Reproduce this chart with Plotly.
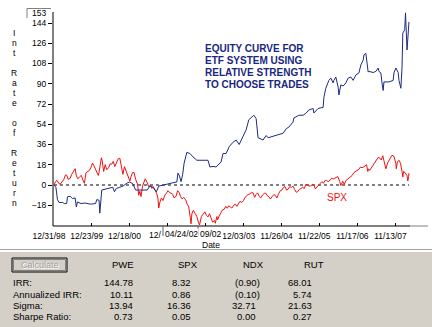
import plotly.graph_objects as go

# ---------------- data ----------------
pwe_x = [1999.00, 1999.05, 1999.09, 1999.13, 1999.22, 1999.27, 1999.33, 1999.35, 1999.42, 1999.48,
         1999.55, 1999.58, 1999.61, 1999.70, 1999.80, 1999.95, 2000.08, 2000.11, 2000.17, 2000.19,
         2000.24, 2000.38, 2000.53, 2000.57, 2000.62, 2000.71, 2000.79, 2000.90, 2000.97, 2001.05,
         2001.12, 2001.42, 2001.49, 2001.57, 2001.66, 2001.72, 2001.83, 2002.01, 2002.09, 2002.19,
         2002.22, 2002.26, 2002.30, 2002.34, 2002.38, 2002.45, 2002.53, 2002.61, 2002.71, 2003.00,
         2003.05, 2003.13, 2003.21, 2003.34, 2003.39, 2003.47, 2003.55, 2003.65, 2003.73, 2003.81,
         2003.91, 2003.99, 2004.06, 2004.14, 2004.19, 2004.25, 2004.30, 2004.43, 2004.51, 2004.56,
         2004.77, 2004.95, 2005.03, 2005.10, 2005.21, 2005.23, 2005.36, 2005.47, 2005.55, 2005.62,
         2005.73, 2005.75, 2005.86, 2005.99, 2006.01, 2006.06, 2006.14, 2006.19, 2006.25, 2006.27,
         2006.32, 2006.38, 2006.40, 2006.45, 2006.51, 2006.58, 2006.64, 2006.71, 2006.77, 2006.84,
         2006.92, 2006.97, 2007.03, 2007.05, 2007.10, 2007.13, 2007.16, 2007.18, 2007.29, 2007.36,
         2007.42, 2007.44, 2007.49, 2007.52, 2007.55, 2007.57, 2007.70, 2007.81, 2007.83, 2007.88,
         2007.94, 2007.96, 2008.01, 2008.04, 2008.06, 2008.11, 2008.13, 2008.17, 2008.19, 2008.22]
pwe_y = [0, -2, -13, -15.5, -15.5, -16.5, -16.5, -10.5, -10, -12,
         -11.5, -19.5, -15, -16.5, -16, -17, -16.5, -13, -13.5, -25,
         -4.5, -3.5, -2, -6, -3, -2, -1, 1.8, 2.7, 1,
         -4.5, -4.5, -1, -2, -6, -1, 0, 1.8, 2, 2.7,
         10.6, 8, 3, 9, 19.5, 29, 28, 25, 22, 22,
         16, 16.5, 16, 20.5, 28, 28, 34, 38, 40, 36,
         43, 49, 58, 61, 62, 59, 42, 40, 44, 42,
         44, 46, 50, 51.5, 56, 59.5, 62, 62, 64, 66.7,
         68, 64, 68, 69, 78, 86, 93, 95, 90.7, 93,
         96, 87, 80, 89, 88, 90.7, 95, 96, 93, 97.8,
         99.6, 106.7, 111, 115.6, 117, 107, 100.4, 101, 100, 101,
         104, 101, 99.6, 90.7, 84, 91.6, 91.6, 93, 99.6, 104,
         100, 93, 86, 105, 135, 138, 153, 120, 135, 145]

spx_x = [1999.00, 1999.04, 1999.08, 1999.12, 1999.16, 1999.21, 1999.25, 1999.30, 1999.33, 1999.37,
         1999.42, 1999.46, 1999.50, 1999.55, 1999.58, 1999.62, 1999.67, 1999.71, 1999.75, 1999.79,
         1999.83, 1999.88, 1999.92, 1999.96, 2000.00, 2000.04, 2000.08, 2000.12, 2000.15, 2000.17,
         2000.21, 2000.23, 2000.25, 2000.29, 2000.33, 2000.37, 2000.42, 2000.46, 2000.50, 2000.54,
         2000.58, 2000.62, 2000.67, 2000.71, 2000.75, 2000.79, 2000.83, 2000.88, 2000.92, 2000.97,
         2001.00, 2001.04, 2001.08, 2001.12, 2001.17, 2001.20, 2001.23, 2001.26, 2001.30, 2001.33,
         2001.37, 2001.42, 2001.46, 2001.50, 2001.54, 2001.58, 2001.62, 2001.67, 2001.70, 2001.72,
         2001.75, 2001.79, 2001.83, 2001.88, 2001.92, 2001.96, 2002.00, 2002.04, 2002.08, 2002.12,
         2002.17, 2002.21, 2002.25, 2002.29, 2002.33, 2002.37, 2002.42, 2002.46, 2002.50, 2002.54,
         2002.56, 2002.58, 2002.62, 2002.67, 2002.71, 2002.75, 2002.78, 2002.83, 2002.88, 2002.92,
         2002.96, 2003.00, 2003.04, 2003.08, 2003.12, 2003.17, 2003.19, 2003.23, 2003.25, 2003.29,
         2003.33, 2003.38, 2003.42, 2003.46, 2003.50, 2003.54, 2003.58, 2003.62, 2003.67, 2003.71,
         2003.75, 2003.79, 2003.83, 2003.88, 2003.92, 2003.96, 2004.00, 2004.04, 2004.08, 2004.12,
         2004.17, 2004.21, 2004.25, 2004.29, 2004.33, 2004.37, 2004.42, 2004.46, 2004.50, 2004.54,
         2004.58, 2004.62, 2004.67, 2004.71, 2004.75, 2004.79, 2004.83, 2004.88, 2004.92, 2004.96,
         2005.00, 2005.04, 2005.08, 2005.12, 2005.17, 2005.21, 2005.25, 2005.29, 2005.33, 2005.37,
         2005.42, 2005.46, 2005.50, 2005.54, 2005.58, 2005.62, 2005.67, 2005.71, 2005.75, 2005.79,
         2005.83, 2005.88, 2005.92, 2005.96, 2006.00, 2006.04, 2006.08, 2006.12, 2006.17, 2006.21,
         2006.25, 2006.29, 2006.33, 2006.37, 2006.42, 2006.45, 2006.50, 2006.54, 2006.58, 2006.62,
         2006.67, 2006.71, 2006.75, 2006.79, 2006.83, 2006.88, 2006.92, 2006.96, 2007.00, 2007.04,
         2007.08, 2007.12, 2007.15, 2007.17, 2007.20, 2007.25, 2007.29, 2007.33, 2007.37, 2007.42,
         2007.46, 2007.50, 2007.54, 2007.58, 2007.62, 2007.67, 2007.71, 2007.75, 2007.78, 2007.83,
         2007.88, 2007.89, 2007.92, 2007.96, 2008.00, 2008.04, 2008.06, 2008.08, 2008.12, 2008.17,
         2008.19, 2008.21, 2008.22]
spx_y = [0, 3.0, 4.1, 1.5, 0.7, 3.5, 4.6, 9.0, 8.6, 5.0,
         5.9, 9.5, 11.7, 14.5, 8.1, 5.5, 7.4, 8.5, 4.4, 1.5,
         10.9, 12.0, 13.0, 15.5, 19.5, 17.0, 13.4, 11.0, 8.5, 11.2,
         18.0, 24.2, 22.0, 12.0, 18.1, 13.5, 15.6, 19.0, 18.4, 21.0,
         16.4, 20.0, 23.5, 23.7, 16.9, 9.5, 16.3, 12.0, 7.0, 3.5,
         7.4, 11.0, 11.1, 5.0, 0.9, -9.1, -5.6, -10.3, -1.0, 1.6,
         5.5, 2.2, -1.5, -0.4, -3.0, -1.5, -4.5, -7.8, -12.0, -20.5,
         -15.3, -11.5, -13.8, -9.0, -7.3, -5.0, -6.6, -7.0, -8.1, -11.5,
         -10.0, -5.0, -6.7, -10.5, -12.4, -11.0, -13.2, -17.0, -19.5, -29.0,
         -34.5, -25.8, -22.5, -25.5, -28.0, -33.0, -35.5, -27.9, -25.0, -23.9,
         -27.0, -28.4, -25.5, -30.4, -33.0, -31.6, -34.0, -28.0, -31.0, -27.5,
         -25.4, -22.0, -21.6, -19.0, -20.7, -18.5, -19.5, -20.5, -18.0, -17.0,
         -19.0, -16.0, -14.5, -15.5, -13.9, -11.0, -9.5, -8.5, -8.0, -7.0,
         -6.9, -11.0, -8.4, -7.0, -10.0, -11.5, -8.8, -7.5, -7.2, -9.5,
         -10.4, -12.5, -10.2, -8.5, -9.3, -11.5, -8.1, -5.0, -4.5, -2.0,
         -1.4, -4.5, -3.9, -1.5, -2.1, -1.0, -3.9, -6.5, -5.9, -4.0,
         -3.0, -2.0, -3.1, 0.5, 0.4, -1.0, -0.7, 0.5, 0.0, -3.5,
         -1.8, 0.5, 1.6, 3.0, 1.5, 4.0, 4.1, 3.0, 4.2, 6.0,
         5.3, 6.0, 6.6, 7.5, 3.3, -0.4, 3.3, 0.5, 3.9, 5.0,
         6.1, 7.5, 8.7, 11.0, 12.1, 13.0, 14.0, 16.0, 15.4, 16.0,
         17.0, 18.0, 12.0, 14.4, 13.0, 15.6, 18.5, 20.6, 23.0, 24.5,
         24.0, 22.3, 26.0, 18.4, 14.4, 19.9, 22.0, 24.2, 26.5, 25.5,
         19.0, 14.5, 20.5, 22.0, 19.4, 12.0, 7.0, 12.1, 11.0, 8.3,
         3.6, 7.5, 10.6]

x_tick_vals = [1999.00, 1999.98, 2000.96, 2001.95, 2002.94, 2003.93, 2004.91, 2005.89, 2006.88, 2007.87]
# the 2001 and 2002 labels are hidden behind the cursor boxes in the reference
x_tick_text = ["12/31/98", "12/23/99", "12/18/00", "", "",
               "12/03/03", "11/26/04", "11/22/05", "11/17/06", "11/13/07"]
hidden_label_stub = "12/"
y_tick_vals = [-18, 0, 18, 36, 54, 72, 90, 108, 126, 144]

cursor_x_labels = ["04/24/02", "09/02"]
cursor_y_label = "153"
y_title = "Int Rate of Return"
x_title = "Date"
chart_note = ["EQUITY CURVE FOR", "ETF SYSTEM USING", "RELATIVE STRENGTH", "TO CHOOSE TRADES"]
series_label = "SPX"

stat_columns = ["PWE", "SPX", "NDX", "RUT"]
stat_rows = ["IRR:", "Annualized IRR:", "Sigma:", "Sharpe Ratio:"]
pwe_stats = ["144.78", "10.11", "13.94", "0.73"]
spx_stats = ["8.32", "0.86", "16.36", "0.05"]
ndx_stats = ["(0.90)", "(0.10)", "32.71", "0.00"]
rut_stats = ["68.01", "5.74", "21.63", "0.27"]
button_label = "Calculate"

# ---------------- layout geometry (pixels) ----------------
W, H = 432, 327
L, R, T, B = 53, 428, 12, 226
PW, PH = R - L, B - T
FONT = "Liberation Sans, Arial, sans-serif"
NAVY = "#1a2780"
BLUE_LINE = "#1c2a84"
RED = "#f01010"


def px(x):
    return (x - L) / PW


def py(y):
    return (B - y) / PH


def txt(x, y, text, size=9, color="black", xanchor="center", yanchor="middle", **kw):
    d = dict(xref="paper", yref="paper", x=px(x), y=py(y), text=text, showarrow=False,
             xanchor=xanchor, yanchor=yanchor, font=dict(family=FONT, size=size, color=color))
    d.update(kw)
    return d


def hline(x0, x1, y, color, width=1):
    return dict(type="line", xref="paper", yref="paper", x0=px(x0), x1=px(x1), y0=py(y), y1=py(y),
                line=dict(color=color, width=width))


def vline(x, y0, y1, color, width=1):
    return dict(type="line", xref="paper", yref="paper", x0=px(x), x1=px(x), y0=py(y0), y1=py(y1),
                line=dict(color=color, width=width))


fig = go.Figure()
fig.add_trace(go.Scatter(x=spx_x, y=spx_y, mode="lines", line=dict(color=RED, width=1), hoverinfo="skip"))
fig.add_trace(go.Scatter(x=pwe_x, y=pwe_y, mode="lines", line=dict(color=BLUE_LINE, width=1), hoverinfo="skip"))

shapes = []
ann = []

# zero dotted line
shapes.append(dict(type="line", xref="x", yref="y", x0=pwe_x[0], x1=pwe_x[-1], y0=0, y1=0,
                   line=dict(color="black", width=1, dash="dot"), layer="below"))
# axis lines
shapes.append(hline(L, 410, B, "black"))
shapes.append(hline(410, R, B, "#808080"))
shapes.append(vline(L, T, B, "black"))

# cursor value box at top of y axis
shapes.append(hline(27, 51, 8.5, "#808080"))
shapes.append(vline(27, 8.5, 18, "#808080"))
ann.append(txt(48, 13.5, cursor_y_label, size=8.5, xanchor="right"))

# stub of the hidden 2001 tick label and cursor boxes on x axis
ann.append(txt(163, 235, hidden_label_stub, size=8.5, xanchor="right"))
for lbl, x0 in zip(cursor_x_labels, [163, 198]):
    ann.append(txt(x0 + 0.5, 228, lbl, size=8.5, xanchor="left", yanchor="top",
                   bgcolor="white", borderpad=0))
    shapes.append(vline(x0, 226, 236, "#606060"))

# y title (vertical letters)
for i, ch in enumerate(y_title):
    if ch.strip():
        ann.append(txt(14, 33 + 10 * i, ch, size=8.5))

# x title
ann.append(txt(211, 245, x_title, size=8.5))

# chart note
for i, line in enumerate(chart_note):
    ann.append(txt(203, 48 + 12.3 * i, "<b>" + line + "</b>", size=10, color=NAVY, xanchor="left"))

# SPX label
ann.append(txt(337, 197, series_label, size=10, color=RED))

# ---------------- bottom stats panel ----------------
shapes.append(dict(type="rect", xref="paper", yref="paper", x0=px(0), x1=px(W), y0=py(251), y1=py(H + 2),
                   fillcolor="#d4d0c8", line=dict(width=0)))
shapes.append(hline(0, W, 249.5, "#a0a0a0"))
shapes.append(hline(0, W, 251.5, "#ffffff"))
# button
shapes.append(dict(type="rect", xref="paper", yref="paper", x0=px(12), x1=px(67), y0=py(258), y1=py(272),
                   fillcolor="#d4d0c8", line=dict(color="black", width=1)))
shapes.append(dict(type="rect", xref="paper", yref="paper", x0=px(13.5), x1=px(65.5), y0=py(259.5), y1=py(270.5),
                   line=dict(color="#808080", width=1)))
ann.append(txt(40.5, 266, button_label, size=9, color="white"))
ann.append(txt(39.5, 265, button_label, size=9, color="#a0a0a0"))

col_centers = [123, 188, 253, 314]
col_rights = [135, 193, 258, 314]
row_ys = [283, 294, 305, 316]
for name, cx in zip(stat_columns, col_centers):
    ann.append(txt(cx, 264, name, size=9.5))
for lbl, ry in zip(stat_rows, row_ys):
    ann.append(txt(11, ry, lbl, size=9.5, xanchor="left"))
for vals, rx in zip([pwe_stats, spx_stats, ndx_stats, rut_stats], col_rights):
    for v, ry in zip(vals, row_ys):
        xr = rx + 3.5 if v.startswith("(") else rx
        ann.append(txt(xr, ry, v, size=9.5, xanchor="right"))

x_lo = 1999.0 - 1 / 38.5
x_hi = x_lo + PW / 38.5
y_lo = -(B - 185) / 1.125
y_hi = y_lo + PH / 1.125

fig.update_layout(
    width=W, height=H,
    margin=dict(l=L, r=W - R, t=T, b=H - B, pad=0),
    paper_bgcolor="white", plot_bgcolor="white",
    showlegend=False,
    font=dict(family=FONT, size=9, color="black"),
    shapes=shapes, annotations=ann,
    xaxis=dict(range=[x_lo, x_hi], tickmode="array", tickvals=x_tick_vals, ticktext=x_tick_text,
               ticks="inside", ticklen=3, tickcolor="black", tickangle=0, ticklabelshift=-5,
               ticklabelstandoff=3,
               showgrid=False, zeroline=False, showline=False, fixedrange=True,
               tickfont=dict(family=FONT, size=8.5, color="black")),
    yaxis=dict(range=[y_lo, y_hi], tickmode="array", tickvals=y_tick_vals,
               ticks="outside", ticklen=4, tickcolor="black",
               showgrid=False, zeroline=False, showline=False, fixedrange=True,
               tickfont=dict(family=FONT, size=8.5, color="black")),
)

fig.write_html("out.html", config={"displayModeBar": False})
